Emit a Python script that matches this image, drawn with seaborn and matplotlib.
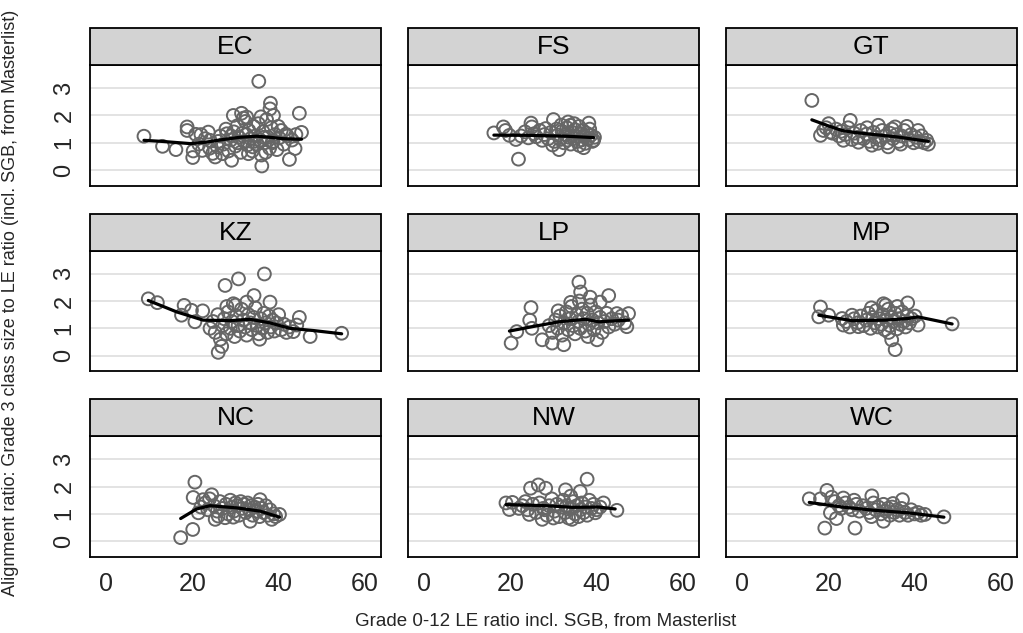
import numpy as np
import pandas as pd
import seaborn as sns
import matplotlib
matplotlib.use("Agg")
import matplotlib.pyplot as plt
from matplotlib.patches import Rectangle

# ---------------- data ----------------
provinces = ["EC", "FS", "GT", "KZ", "LP", "MP", "NC", "NW", "WC"]

ec_points = [(8.8,1.24),(13.1,0.87),(16.2,0.75),(18.8,1.58),(18.8,1.45),(20.8,1.31),(20.1,0.46),(20.2,0.70),
             (23.7,1.39),(24.1,1.09),(24.7,0.61),(25.3,0.48),(28.0,1.33),(29.1,0.36),(29.5,2.00),(31.4,2.08),
             (32.6,1.94),(35.4,3.25),(36.1,0.15),(38.1,2.45),(38.0,2.24),(38.8,2.00),(44.8,2.08),(45.3,1.38),
             (42.5,0.39),(43.8,0.79),(41.7,1.31),
             (21.5,0.95),(22.3,0.72),(23.0,1.15),(25.8,0.85),(26.5,1.25),(27.2,0.95),(27.8,1.50),(28.4,0.70),
             (28.9,1.10),(29.6,1.40),(30.0,0.88),(30.4,1.62),(30.8,1.20),(31.2,0.65),(31.6,1.35),(32.0,1.05),
             (32.3,1.78),(32.8,0.92),(33.1,1.45),(33.5,1.15),(33.9,0.70),(34.2,1.60),(34.6,1.25),(35.0,0.95),
             (35.3,1.70),(35.7,1.10),(36.0,0.55),(36.4,1.40),(36.8,1.00),(37.2,1.85),(37.5,1.20),(37.9,0.80),
             (38.3,1.55),(38.7,1.05),(39.2,1.30),(39.6,0.75),(40.1,1.18),(40.6,1.45),(41.2,0.95),(42.0,1.25),
             (43.1,1.10),(44.0,1.30),(30.5,1.00),(31.8,1.90),(33.0,0.60),(34.4,1.05),(35.9,1.95),(37.0,0.65),
             (38.5,1.00),(39.9,1.60),(32.5,1.30),(34.0,0.85),(36.5,1.20),(29.0,1.25),(27.0,0.60),(26.0,1.05),
             (24.0,0.80),(22.0,1.30)]
fs_points = [(16.2,1.36),(18.4,1.58),(18.9,1.45),(19.8,1.27),(21.3,1.12),(21.9,0.40),(24.8,1.72),(25.0,1.58),
             (25.5,1.33),(27.4,1.09),(28.2,1.52),(30.0,1.85),(31.3,0.75),(33.4,1.76),(33.9,1.64),(38.2,1.72),
             (37.0,0.82),(39.3,1.09),
             (22.5,1.25),(23.4,1.40),(24.2,1.18),(26.0,1.22),(26.8,1.45),(27.9,1.30),(28.8,1.15),(29.4,1.38),
             (30.2,1.05),(30.7,1.50),(31.0,1.28),(31.6,1.12),(32.0,1.42),(32.4,1.00),(32.8,1.30),(33.1,1.55),
             (33.6,1.20),(34.0,0.95),(34.3,1.38),(34.7,1.15),(35.0,1.48),(35.3,1.25),(35.6,1.05),(35.9,1.60),
             (36.2,1.32),(36.5,1.10),(36.8,1.45),(37.1,1.22),(37.4,0.98),(37.7,1.35),(38.0,1.15),(38.4,1.50),
             (38.7,1.28),(39.0,1.05),(39.5,1.20),(34.8,1.70),(36.0,0.90),(31.8,1.65),(29.8,0.92),(33.3,1.10)]
gt_points = [(16.2,2.55),(18.2,1.27),(18.9,1.45),(20.1,1.70),(20.5,1.39),(25.1,1.82),(23.5,1.09),(25.5,1.12),
             (30.1,0.91),(31.6,1.64),(33.9,0.85),(35.5,1.58),(38.2,1.60),(40.8,1.45),(43.2,0.95),(42.8,1.09),
             (19.5,1.55),(21.0,1.35),(21.8,1.50),(22.5,1.25),(23.0,1.42),(24.0,1.30),(24.6,1.55),(26.0,1.35),
             (26.8,1.20),(27.5,1.45),(28.2,1.15),(28.9,1.32),(29.5,1.05),(30.5,1.38),(31.0,1.20),(32.0,1.10),
             (32.5,1.45),(33.2,1.25),(33.7,1.00),(34.3,1.35),(35.0,1.15),(35.8,1.30),(36.3,1.05),(37.0,1.25),
             (37.6,1.45),(38.6,1.10),(39.2,1.30),(39.8,1.00),(40.3,1.20),(41.0,1.05),(41.6,1.25),(42.2,1.00),
             (36.8,0.95),(34.8,1.50),(31.5,0.98),(29.0,1.55),(27.0,1.02)]
kz_points = [(9.8,2.08),(11.9,1.94),(18.1,1.84),(17.5,1.48),(19.8,1.66),(20.6,1.24),(22.4,1.64),(24.1,1.00),
             (26.0,0.12),(26.8,0.34),(27.6,2.57),(30.7,2.81),(36.7,2.99),(34.3,2.20),(38.0,1.96),(32.6,1.96),
             (29.5,1.90),(44.8,1.40),(44.2,1.12),(47.3,0.70),(43.4,0.88),(54.6,0.82),
             (24.8,1.25),(25.3,0.85),(25.9,1.50),(26.5,0.60),(27.0,1.10),(27.4,1.35),(27.9,0.80),(28.3,1.60),
             (28.8,1.00),(29.2,1.25),(29.8,0.70),(30.2,1.45),(30.6,1.10),(31.0,0.90),(31.4,1.70),(31.8,1.30),
             (32.2,1.05),(32.6,0.75),(33.0,1.50),(33.4,1.20),(33.8,0.95),(34.2,1.40),(34.6,1.75),(35.0,1.10),
             (35.4,0.80),(35.8,1.35),(36.2,1.00),(36.6,1.55),(37.0,1.20),(37.4,0.85),(37.8,1.45),(38.2,1.05),
             (38.6,1.30),(39.0,0.90),(39.5,1.20),(40.0,1.50),(40.6,0.95),(41.2,1.15),(41.8,0.85),(42.5,1.05),
             (30.0,1.85),(35.6,0.60),(28.0,1.80)]
lp_points = [(20.2,0.46),(21.5,0.88),(24.8,1.76),(24.5,1.30),(25.0,1.00),(27.4,0.58),(29.7,0.46),(31.1,1.64),
             (32.4,0.40),(35.9,2.69),(36.3,2.33),(38.5,2.14),(42.8,2.20),(40.8,1.96),(44.7,1.54),(47.4,1.54),
             (47.0,1.06),(40.1,0.58),
             (29.0,1.10),(29.8,0.85),(30.5,1.30),(31.0,1.00),(31.5,1.45),(32.0,0.75),(32.5,1.20),(33.0,1.60),
             (33.4,0.95),(33.8,1.35),(34.2,1.80),(34.6,1.10),(35.0,0.80),(35.4,1.50),(35.8,1.25),(36.2,1.00),
             (36.6,1.70),(37.0,1.35),(37.4,0.90),(37.8,1.55),(38.2,1.15),(38.6,1.85),(39.0,1.30),(39.4,0.95),
             (39.8,1.60),(40.3,1.20),(40.8,1.40),(41.3,0.85),(41.8,1.25),(42.3,1.55),(42.8,1.05),(43.5,1.35),
             (44.2,1.15),(45.0,1.30),(45.8,1.45),(46.5,1.20),(36.0,2.00),(34.0,1.95),(38.0,0.70)]
mp_points = [(18.2,1.78),(17.8,1.42),(20.1,1.48),(23.2,1.36),(23.5,1.12),(25.5,1.48),(27.0,1.06),(32.8,1.90),
             (38.4,1.93),(40.1,1.45),(40.8,1.12),(34.7,0.58),(35.5,0.22),(48.7,1.16),
             (24.2,1.25),(25.0,1.05),(26.0,1.35),(26.8,1.20),(27.5,1.45),(28.2,1.10),(28.8,1.30),(29.3,1.55),
             (29.8,1.00),(30.3,1.40),(30.7,1.20),(31.1,1.65),(31.5,1.05),(31.9,1.35),(32.3,1.15),(32.7,1.50),
             (33.1,0.95),(33.5,1.30),(33.9,1.70),(34.3,1.10),(34.7,1.40),(35.1,1.25),(35.5,1.55),(35.9,0.98),
             (36.3,1.35),(36.7,1.15),(37.1,1.60),(37.5,1.25),(37.9,1.05),(38.3,1.45),(38.8,1.20),(39.3,1.35),
             (34.0,0.85),(36.0,1.80),(30.0,1.75),(33.3,1.85)]
nc_points = [(17.3,0.13),(20.1,0.43),(20.6,2.16),(20.2,1.60),(21.4,1.04),(22.5,1.52),(24.5,1.70),(25.3,0.80),
             (27.6,0.86),(33.4,0.73),(35.7,1.52),(38.4,0.80),(40.2,0.98),
             (22.0,1.25),(23.0,1.40),(23.6,1.15),(24.0,1.55),(25.0,1.30),(25.8,1.10),(26.4,1.45),(27.0,1.20),
             (27.8,1.35),(28.3,1.00),(28.8,1.50),(29.2,1.25),(29.6,1.10),(30.0,1.40),(30.4,1.30),(30.8,0.95),
             (31.2,1.45),(31.6,1.20),(32.0,1.35),(32.4,1.05),(32.8,1.40),(33.2,1.15),(33.6,1.30),(34.0,0.95),
             (34.4,1.25),(34.8,1.10),(35.2,1.35),(35.6,0.90),(36.0,1.20),(36.5,1.05),(37.0,1.30),(37.5,0.95),
             (38.0,1.15),(38.8,1.00),(39.3,0.90),(29.5,0.88),(26.0,0.92)]
nw_points = [(19.0,1.40),(19.8,1.16),(20.5,1.42),(22.8,1.30),(24.7,1.94),(26.5,2.06),(28.2,1.94),(24.4,0.98),
             (27.4,0.80),(37.8,2.27),(32.8,1.88),(36.2,1.82),(41.6,1.40),(44.7,1.13),(39.7,1.04),(34.3,0.80),
             (22.0,1.20),(23.5,1.45),(24.0,1.15),(25.2,1.35),(26.0,1.05),(26.8,1.40),(27.6,1.20),(28.5,0.95),
             (29.0,1.30),(29.6,1.55),(30.2,1.10),(30.8,1.35),(31.3,0.90),(31.8,1.25),(32.3,1.50),(32.7,1.05),
             (33.1,1.30),(33.5,0.85),(33.9,1.20),(34.6,1.45),(35.0,1.00),(35.4,1.30),(35.8,0.90),(36.2,1.15),
             (36.6,1.40),(37.0,1.05),(37.4,1.25),(37.8,0.95),(38.3,1.50),(38.8,1.20),(39.3,1.35),(40.0,1.15),
             (40.8,1.25),(34.0,1.65),(30.0,0.85),(28.0,1.15)]
wc_points = [(15.6,1.55),(19.7,1.86),(19.2,0.48),(26.2,0.48),(20.5,1.04),(21.9,0.83),(20.8,1.61),(23.5,1.58),
             (30.1,1.66),(32.8,0.73),(37.2,1.52),(42.4,0.98),(46.8,0.89),
             (18.2,1.55),(21.5,1.45),(22.5,1.30),(23.0,1.20),(24.0,1.40),(24.8,1.25),(25.5,1.15),(26.5,1.35),
             (27.2,1.10),(28.0,1.30),(28.8,1.20),(29.5,1.05),(30.5,1.40),(31.0,1.15),(31.6,1.25),(32.2,1.00),
             (32.8,1.35),(33.3,1.10),(33.8,1.20),(34.3,0.95),(34.8,1.25),(35.3,1.05),(35.9,1.15),(36.5,0.95),
             (37.0,1.20),(37.8,1.05),(38.5,0.95),(39.2,1.15),(40.0,1.00),(40.8,1.05),(41.5,0.95),(30.0,0.90),
             (26.0,1.50),(35.0,1.38)]

# smoothed (lowess) curves per province
ec_line_x = [8.8, 13.0, 19.5, 23.0, 27.2, 31.0, 34.9, 38.0, 41.0, 45.3]
ec_line_y = [1.09, 1.05, 0.97, 1.02, 1.12, 1.20, 1.24, 1.20, 1.15, 1.13]
fs_line_x = [16.2, 25.0, 33.0, 39.3]
fs_line_y = [1.28, 1.27, 1.24, 1.19]
gt_line_x = [16.2, 20.0, 23.2, 26.0, 30.1, 36.2, 43.2]
gt_line_y = [1.84, 1.62, 1.45, 1.38, 1.31, 1.21, 1.05]
kz_line_x = [9.8, 16.4, 22.5, 28.7, 33.4, 38.0, 42.6, 48.0, 54.6]
kz_line_y = [2.02, 1.60, 1.30, 1.28, 1.33, 1.20, 1.00, 0.92, 0.80]
lp_line_x = [19.8, 25.1, 31.3, 37.4, 40.5, 47.4]
lp_line_y = [0.90, 1.06, 1.24, 1.33, 1.24, 1.30]
mp_line_x = [17.8, 25.5, 33.2, 38.5, 40.8, 48.7]
mp_line_y = [1.48, 1.28, 1.30, 1.36, 1.42, 1.16]
nc_line_x = [17.3, 21.0, 24.1, 30.3, 35.7, 40.2]
nc_line_y = [0.83, 1.18, 1.30, 1.22, 1.10, 0.88]
nw_line_x = [19.0, 28.2, 34.3, 40.5, 44.3]
nw_line_y = [1.34, 1.30, 1.24, 1.25, 1.18]
wc_line_x = [15.6, 23.2, 30.8, 38.5, 46.8]
wc_line_y = [1.42, 1.25, 1.13, 1.04, 0.88]

x_ticks = [0, 20, 40, 60]
y_ticks = [0, 1, 2, 3]
x_label = "Grade 0-12 LE ratio incl. SGB, from Masterlist"
y_label = "Alignment ratio: Grade 3 class size to LE ratio (incl. SGB, from Masterlist)"

# ---------------- build tables ----------------
point_sets = dict(zip(provinces, [ec_points, fs_points, gt_points, kz_points, lp_points,
                                  mp_points, nc_points, nw_points, wc_points]))
line_sets = dict(zip(provinces, [(ec_line_x, ec_line_y), (fs_line_x, fs_line_y), (gt_line_x, gt_line_y),
                                 (kz_line_x, kz_line_y), (lp_line_x, lp_line_y), (mp_line_x, mp_line_y),
                                 (nc_line_x, nc_line_y), (nw_line_x, nw_line_y), (wc_line_x, wc_line_y)]))
rows = []
for p, pts in point_sets.items():
    for x, y in pts:
        rows.append({"prov": p, "x": x, "y": y})
df = pd.DataFrame(rows)
lrows = []
for p, (lx, ly) in line_sets.items():
    for x, y in zip(lx, ly):
        lrows.append({"prov": p, "x": x, "y": y})
ldf = pd.DataFrame(lrows)

# ---------------- plot ----------------
sns.set_style("white")
plt.rcParams["font.family"] = ["Liberation Sans", "DejaVu Sans"]

g = sns.FacetGrid(df, col="prov", col_wrap=3, col_order=provinces, height=2.11, aspect=1.616,
                  sharex=True, sharey=True, despine=False)
g.map_dataframe(sns.scatterplot, x="x", y="y", marker="o", s=85, facecolor="none",
                edgecolor="#666666", linewidth=1.4, zorder=3)

for i, (ax, p) in enumerate(zip(g.axes.flat, provinces)):
    sub = ldf[ldf["prov"] == p]
    sns.lineplot(data=sub, x="x", y="y", ax=ax, color="black", linewidth=2.3,
                 sort=False, estimator=None, zorder=4)
    ax.set_xlim(-3.7, 63.7)
    ax.set_ylim(-0.58, 3.84)
    ax.set_xticks(x_ticks)
    ax.set_yticks(y_ticks)
    ax.set_xlabel("")
    ax.set_ylabel("")
    ax.set_title("")
    ax.yaxis.grid(True, color="#e1e1e1", linewidth=1.3)
    ax.xaxis.grid(False)
    ax.set_axisbelow(True)
    for sp in ax.spines.values():
        sp.set_color("black")
        sp.set_linewidth(1.3)
    row, col = divmod(i, 3)
    ax.tick_params(axis="x", length=7.5 if row == 2 else 0, width=1.1, labelsize=18,
                   labelbottom=(row == 2), color="black", pad=3)
    ax.tick_params(axis="y", length=7.5 if col == 0 else 0, width=1.1, labelsize=17,
                   labelleft=(col == 0), color="black", labelrotation=90, pad=3)
    for t in ax.get_yticklabels():
        t.set_verticalalignment("center")
    ax.add_patch(Rectangle((0, 1.0), 1, 0.305, transform=ax.transAxes, clip_on=False,
                           facecolor="#d3d3d3", edgecolor="black", linewidth=1.3, zorder=5))
    ax.text(0.5, 1.15, p, transform=ax.transAxes, ha="center", va="center",
            fontsize=19, color="black", zorder=6)

fig = g.figure
fig.set_size_inches(10.23, 6.33)
fig.subplots_adjust(left=0.088, right=0.994, top=0.897, bottom=0.120, wspace=0.093, hspace=0.537)
fig.text(0.0105, 0.521, y_label, rotation=90, ha="center", va="center", fontsize=13)
fig.text(0.533, 0.019, x_label, ha="center", va="center", fontsize=13.5)

fig.savefig("out.png", dpi=100)
